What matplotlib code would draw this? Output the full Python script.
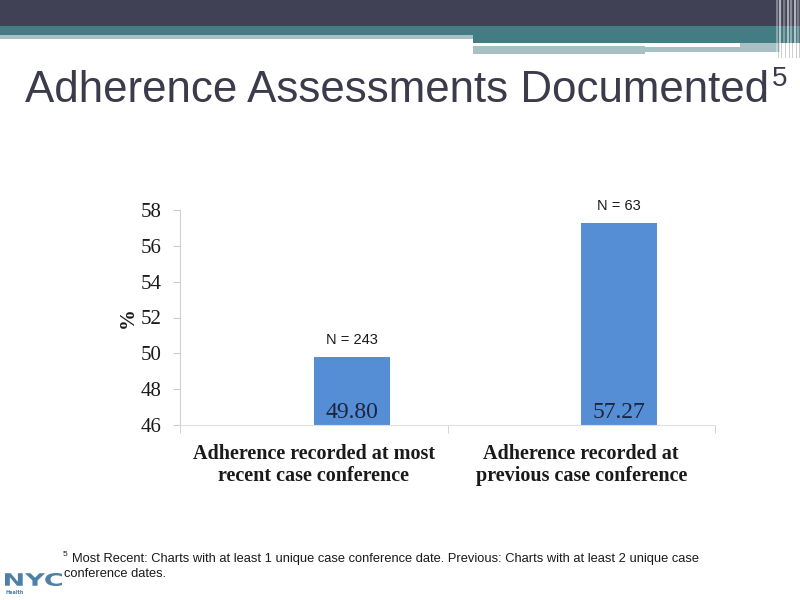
import matplotlib
matplotlib.use("Agg")
import matplotlib.pyplot as plt
from matplotlib.patches import Rectangle, PathPatch
from matplotlib.textpath import TextPath
from matplotlib.font_manager import FontProperties
from matplotlib.transforms import Affine2D

categories = ["Adherence recorded at most\nrecent case conference",
              "Adherence recorded at\nprevious case conference"]
values = [49.80, 57.27]
value_labels = ["49.80", "57.27"]
n_labels = ["N = 243", "N = 63"]
yticks = [46, 48, 50, 52, 54, 56, 58]

W, H = 800, 600
fig = plt.figure(figsize=(8, 6), dpi=100)
fig.patch.set_facecolor("white")

# header decoration (figure pixel coords, y from top)
bg = fig.add_axes([0, 0, 1, 1], zorder=-5)
bg.set_xlim(0, W)
bg.set_ylim(H, 0)
bg.axis("off")
def rect(x0, y0, x1, y1, c, a=1.0):
    bg.add_patch(Rectangle((x0, y0), x1 - x0, y1 - y0, color=c, lw=0, alpha=a))
rect(0, 0, 800, 26, "#414156")
rect(0, 26, 473, 35, "#437c82")
rect(0, 35, 473, 39, "#a7c0c4")
rect(473, 26, 800, 43, "#437c82")
rect(473, 46, 645, 54, "#a7c0c4")
rect(645, 47, 780, 52, "#a7c0c4")
rect(740, 43, 780, 52, "#a7c0c4")
for x, a in [(776, 0.35), (779, 0.6), (783, 0.3), (787, 0.55), (790, 0.4), (794, 0.6), (797, 0.3)]:
    rect(x, 0, x + 1.5, 60 if x > 785 else 55, "white", a)
    rect(x + 1.5, 0, x + 2.5, 58, "#707080", 0.35)

# NYC logo, stretched to its box
tp = TextPath((0, 0), "NYC", size=10, prop=FontProperties(family="DejaVu Sans", weight="heavy"))
ext = tp.get_extents()
sx = (62 - 5) / ext.width
sy = (586 - 573) / ext.height
tr = Affine2D().translate(-ext.x0, -ext.y0).scale(sx, -sy).translate(5, 586)
bg.add_patch(PathPatch(tr.transform_path(tp), color="#4d80a6", lw=0))
fig.text(6 / W, 1 - 594 / H, "Health", fontsize=3.5, fontweight="bold",
         family="DejaVu Sans", color="#4d80a6", ha="left", va="baseline")

# title
title = fig.text(25 / W, 1 - 102 / H, "Adherence Assessments Documented",
                 fontsize=31.6, family="Liberation Sans", color="#3b3b4b",
                 ha="left", va="baseline")
fig.canvas.draw()
bb = title.get_window_extent()
fig.text(bb.x1 / W + 0.003, 1 - 86 / H, "5", fontsize=20, family="Liberation Sans",
         color="#3b3b4b", ha="left", va="baseline")

# chart
ax = fig.add_axes([180 / W, 1 - 425 / H, 535 / W, 215 / H])
x = list(range(len(categories)))
bars = ax.bar(x, [v - yticks[0] for v in values], bottom=yticks[0], width=0.285,
              align="edge", color="#558ed5", zorder=2)
ax.set_xlim(-0.5, 1.5)
ax.set_ylim(yticks[0], yticks[-1])
ax.set_yticks(yticks)
ax.set_yticklabels([str(t) for t in yticks], family="Liberation Serif", fontsize=15,
                   color="#1a1a1a")
ax.set_xticks(x)
ax.set_xticklabels(categories, family="Liberation Serif", fontsize=14.5,
                   fontweight="bold", color="#1a1a1a", linespacing=1.1)
ax.tick_params(axis="x", length=0, pad=14)
ax.set_xticks([-0.5, 0.5, 1.5], minor=True)
ax.tick_params(axis="x", which="minor", length=6, color="#cccccc", direction="out")
ax.tick_params(axis="y", length=5, color="#cccccc", pad=8)
for s in ["top", "right"]:
    ax.spines[s].set_visible(False)
ax.spines["left"].set_color("#d0d0d0")
ax.spines["bottom"].set_color("#e0e0e0")
ax.set_ylabel("%", family="Liberation Serif", fontsize=15, fontweight="bold",
              color="#1a1a1a", labelpad=2)

for b, v, vl, nl in zip(bars, values, value_labels, n_labels):
    cx = b.get_x() + b.get_width() / 2
    ax.text(cx, yticks[0] + 0.1, vl, ha="center", va="bottom",
            family="Liberation Serif", fontsize=17, color="#1b2540", zorder=3)
    ax.text(cx, v + 0.55, nl, ha="center", va="bottom",
            family="Liberation Sans", fontsize=10.5, color="#1a1a1a")

# footnote
fig.text(63 / W, 1 - 556 / H, "5", fontsize=6, family="Liberation Sans",
         color="#1a1a1a", ha="left", va="baseline")
fig.text(72 / W, 1 - 562 / H,
         "Most Recent: Charts with at least 1 unique case conference date. Previous: Charts with at least 2 unique case",
         fontsize=9.3, family="Liberation Sans", color="#1a1a1a", ha="left", va="baseline")
fig.text(64 / W, 1 - 577 / H, "conference dates.", fontsize=9.3, family="Liberation Sans",
         color="#1a1a1a", ha="left", va="baseline")

fig.savefig("out.png", dpi=100)
